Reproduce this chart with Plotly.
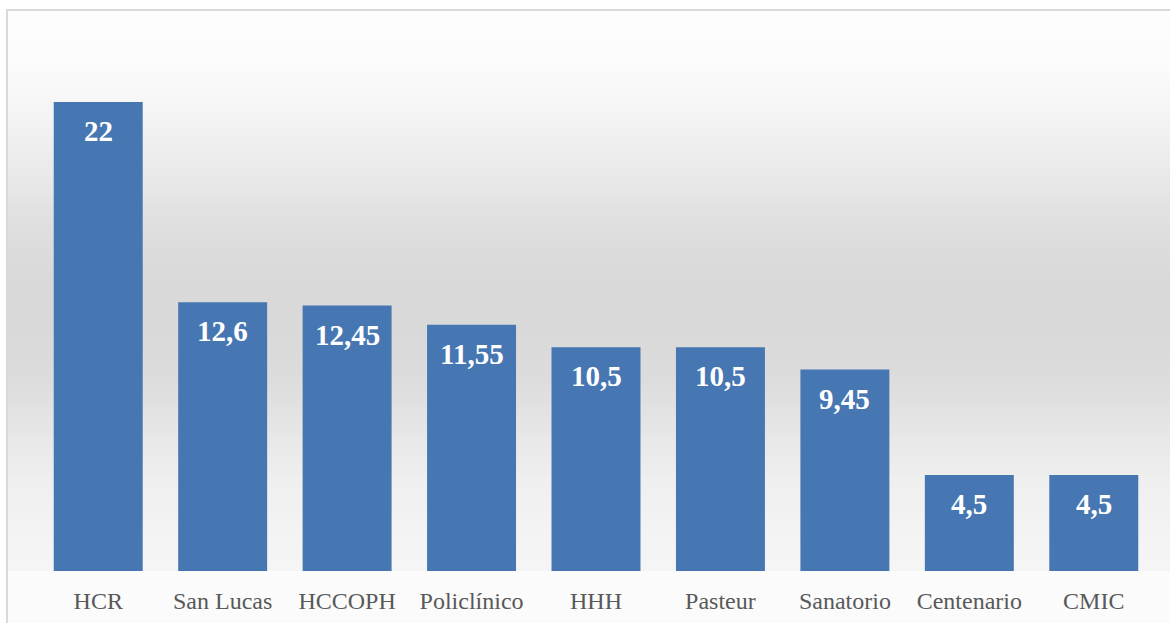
import plotly.graph_objects as go

categories = ["HCR", "San Lucas", "HCCOPH", "Policlínico", "HHH", "Pasteur", "Sanatorio", "Centenario", "CMIC"]
values = [22, 12.6, 12.45, 11.55, 10.5, 10.5, 9.45, 4.5, 4.5]
value_labels = ["22", "12,6", "12,45", "11,55", "10,5", "10,5", "9,45", "4,5", "4,5"]

W, H = 1170, 623
L, R, T, B = 36, 14, 38, 52
PX0, PX1 = L, W - R
PY0, PY1 = T, H - B  # top, bottom of plot area in pixels


def px_x(px):
    return (px - PX0) / (PX1 - PX0)


def px_y(py):
    return (PY1 - py) / (PY1 - PY0)


# background gradient stops (pixel y, grey level)
stops = [(10, 253), (60, 252), (110, 245), (170, 234), (230, 222), (280, 217),
         (330, 217), (380, 220), (430, 230), (480, 239), (530, 243), (571, 245)]


def grey_at(py):
    for (y0, g0), (y1, g1) in zip(stops[:-1], stops[1:]):
        if y0 <= py <= y1:
            t = (py - y0) / (y1 - y0)
            return g0 + (g1 - g0) * t
    return stops[-1][1]


shapes = []
# chart area with border
shapes.append(dict(type="rect", xref="paper", yref="paper", layer="below",
                   x0=px_x(7), x1=px_x(1180), y0=px_y(640), y1=px_y(10),
                   fillcolor="#fbfbfb", line=dict(color="#d9d9d9", width=2)))
step = 3
py = 11
while py < PY1:
    g = int(round(grey_at(py + step / 2)))
    shapes.append(dict(type="rect", xref="paper", yref="paper", layer="below",
                       x0=px_x(8), x1=px_x(1172), y0=px_y(min(py + step, PY1)), y1=px_y(py),
                       fillcolor=f"rgb({g},{g},{g})", line=dict(width=0)))
    py += step

fig = go.Figure()
fig.add_trace(go.Bar(
    x=categories, y=values,
    marker=dict(color="#4677b3", line=dict(width=0)),
    hoverinfo="skip",
))

annotations = []
for c, v, lab in zip(categories, values, value_labels):
    annotations.append(dict(x=c, y=v, xref="x", yref="y", text=f"<b>{lab}</b>",
                            showarrow=False, yanchor="top", yshift=-11,
                            font=dict(family="Liberation Serif", size=29, color="white")))

fig.update_layout(
    width=W, height=H,
    margin=dict(l=L, r=R, t=T, b=B, autoexpand=False),
    paper_bgcolor="white",
    plot_bgcolor="rgba(0,0,0,0)",
    bargap=0.285,
    showlegend=False,
    shapes=shapes,
    annotations=annotations,
    xaxis=dict(showgrid=False, zeroline=False, showline=False, automargin=False,
               ticks="outside", ticklen=8, tickcolor="rgba(0,0,0,0)",
               tickfont=dict(family="Liberation Serif", size=24, color="#595959")),
    yaxis=dict(range=[0, 25], visible=False, showgrid=False, zeroline=False, automargin=False),
)

fig.write_html("out.html", config={"displayModeBar": False},
               post_script="document.body.style.margin='0px';document.body.style.overflow='hidden';")
